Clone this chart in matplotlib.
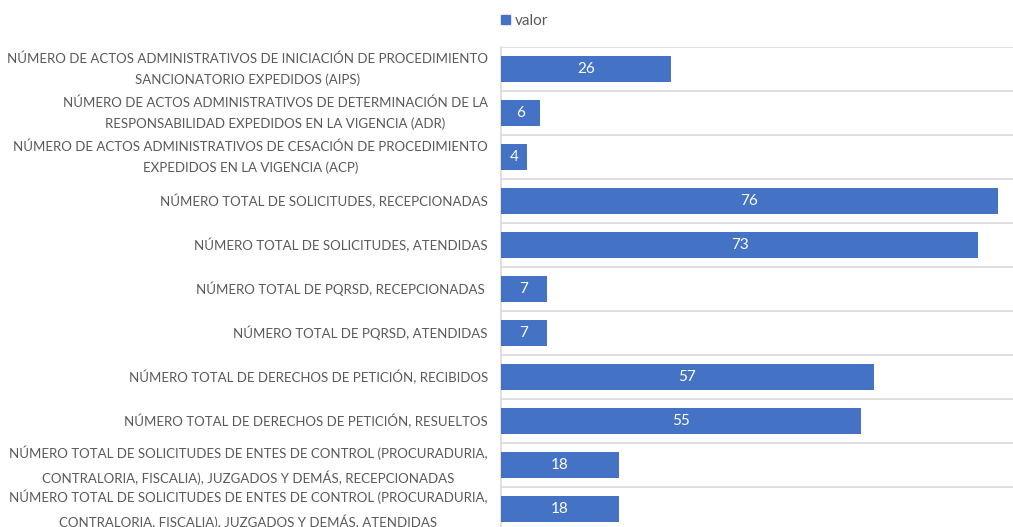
import matplotlib.pyplot as plt
from matplotlib.patches import Patch
import numpy as np

categories = [
    "NÚMERO DE ACTOS ADMINISTRATIVOS DE INICIACIÓN DE PROCEDIMIENTO\nSANCIONATORIO EXPEDIDOS (AIPS)",
    "NÚMERO DE ACTOS ADMINISTRATIVOS DE DETERMINACIÓN DE LA\nRESPONSABILIDAD EXPEDIDOS EN LA VIGENCIA (ADR)",
    "NÚMERO DE ACTOS ADMINISTRATIVOS DE CESACIÓN DE PROCEDIMIENTO\nEXPEDIDOS EN LA VIGENCIA (ACP)",
    "NÚMERO TOTAL DE SOLICITUDES, RECEPCIONADAS",
    "NÚMERO TOTAL DE SOLICITUDES, ATENDIDAS",
    "NÚMERO TOTAL DE PQRSD, RECEPCIONADAS ",
    "NÚMERO TOTAL DE PQRSD, ATENDIDAS",
    "NÚMERO TOTAL DE DERECHOS DE PETICIÓN, RECIBIDOS",
    "NÚMERO TOTAL DE DERECHOS DE PETICIÓN, RESUELTOS",
    "NÚMERO TOTAL DE SOLICITUDES DE ENTES DE CONTROL (PROCURADURIA,\nCONTRALORIA, FISCALIA), JUZGADOS Y DEMÁS, RECEPCIONADAS",
    "NÚMERO TOTAL DE SOLICITUDES DE ENTES DE CONTROL (PROCURADURIA,\nCONTRALORIA, FISCALIA), JUZGADOS Y DEMÁS, ATENDIDAS",
]
valor = [26, 6, 4, 76, 73, 7, 7, 57, 55, 18, 18]

BLUE = "#4472c4"
GRAY = "#595959"
GRID = "#d9d9d9"

plt.rcParams["font.family"] = ["Lato", "DejaVu Sans"]

fig = plt.figure(figsize=(10.13, 5.27), dpi=100)
ax = fig.add_axes([0.4946, -0.0076, 0.5054, 0.9184])

y = np.arange(len(categories))
bars = ax.barh(y, valor, height=0.57, color=BLUE, zorder=3)
for b, v in zip(bars, valor):
    ax.text(b.get_width() / 2, b.get_y() + b.get_height() / 2, str(v),
            ha="center", va="center", color="white", fontsize=11, zorder=4)

ax.set_xlim(0, 78.3)
ax.set_ylim(len(categories) - 0.5, -0.5)
ax.set_yticks(y)
labels = ax.set_yticklabels(categories, fontsize=10, color=GRAY, va="center",
                            multialignment="center", linespacing=1.85)
ax.tick_params(axis="y", length=0, pad=9.5)
ax.set_xticks([])

# shrink the category labels so the longest line is about 478 px wide
fig.canvas.draw()
r = fig.canvas.get_renderer()
widest = labels[0].get_window_extent(r).width
fs = 10 * 478 / widest
for t in labels:
    t.set_fontsize(fs)

# horizontal separators between categories
ax.set_yticks(np.arange(-0.5, len(categories)), minor=True)
ax.tick_params(axis="y", which="minor", length=0)
ax.grid(axis="y", which="minor", color=GRID, lw=1.2, zorder=0)

for side in ["top", "right", "bottom"]:
    ax.spines[side].set_visible(False)
ax.spines["left"].set_color(GRID)
ax.spines["left"].set_linewidth(1.2)

fig.legend(handles=[Patch(color=BLUE, label="valor")], loc="upper center",
           bbox_to_anchor=(0.518, 1.0), frameon=False, fontsize=11,
           handlelength=0.6, handleheight=0.6, handletextpad=0.3,
           labelcolor=GRAY)

fig.savefig("out.png", dpi=100)
